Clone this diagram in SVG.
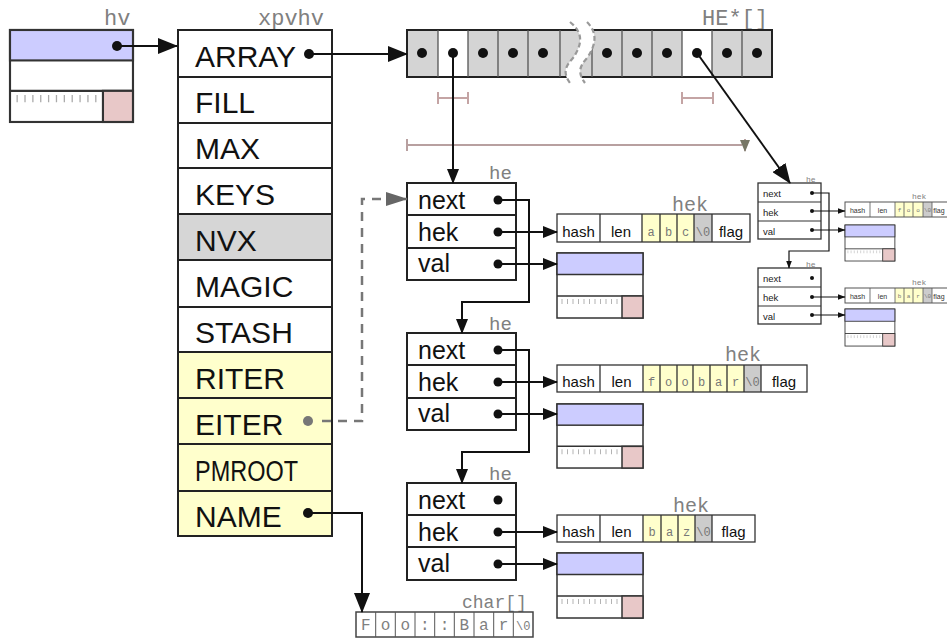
<svg xmlns="http://www.w3.org/2000/svg" xmlns:xlink="http://www.w3.org/1999/xlink" width="947" height="639" viewBox="0 0 947 639">
<style>
.box{fill:#fff;stroke:#222;stroke-width:2}
.cell{stroke:#333;stroke-width:1.3}
.row{font-family:"Liberation Sans",Arial,sans-serif;font-size:30px;fill:#111}
.he{font-family:"Liberation Sans",Arial,sans-serif;font-size:25px;fill:#111}
.hes{font-family:"Liberation Sans",Arial,sans-serif;font-size:9.5px;fill:#222}
.hk{font-family:"Liberation Sans",Arial,sans-serif;font-size:15px;fill:#111;text-anchor:middle}
.hks{font-family:"Liberation Sans",Arial,sans-serif;font-size:7px;fill:#333;text-anchor:middle}
.ch{font-family:"Liberation Mono","Courier New",monospace;font-size:12px;fill:#777;text-anchor:middle}
.chs{font-family:"Liberation Mono","Courier New",monospace;font-size:6px;fill:#777;text-anchor:middle}
.lbl{font-family:"Liberation Mono","Courier New",monospace;fill:#808080}
.conn{stroke:#111;stroke-width:2;fill:none}
.conns{stroke:#111;stroke-width:1.2;fill:none}
.dot{fill:#111}
</style>
<defs>
<marker id="ab" markerUnits="userSpaceOnUse" markerWidth="20" markerHeight="16" refX="19" refY="8" orient="auto"><path d="M0,0 L20,8 L0,16 z" fill="#111"/></marker>
<marker id="am" markerUnits="userSpaceOnUse" markerWidth="15" markerHeight="12" refX="14" refY="6" orient="auto"><path d="M0,0 L15,6 L0,12 z" fill="#111"/></marker>
<marker id="as" markerUnits="userSpaceOnUse" markerWidth="8" markerHeight="6" refX="7.5" refY="3" orient="auto"><path d="M0,0 L8,3 L0,6 z" fill="#111"/></marker>
<marker id="ag" markerUnits="userSpaceOnUse" markerWidth="22" markerHeight="14" refX="21" refY="7" orient="auto"><path d="M0,0 L22,7 L0,14 z" fill="#666"/></marker>
<marker id="ap" markerUnits="userSpaceOnUse" markerWidth="12" markerHeight="10" refX="11" refY="5" orient="auto"><path d="M0,0 L12,5 L0,10 z" fill="#776"/></marker>
<g id="sv">
<rect x="0" y="0" width="86" height="65" fill="#fff" stroke="#333" stroke-width="1.5"/>
<rect x="0" y="0" width="86" height="21.5" fill="#ccccff" stroke="#333" stroke-width="1.5"/>
<line x1="0" y1="43" x2="86" y2="43" stroke="#333" stroke-width="1.5"/>
<rect x="65" y="43" width="21" height="22" fill="#e8c8c8" stroke="#333" stroke-width="1.5"/>
<path d="M5,46v5M10.5,46v5M16,46v5M21.5,46v5M27,46v5M32.5,46v5M38,46v5M43.5,46v5M49,46v5M54.5,46v5M60,46v5" stroke="#aaa" stroke-width="0.9"/>
</g>
</defs>
<rect width="947" height="639" fill="#fff"/>

<!-- hv -->
<g id="hv">
<use xlink:href="#sv" href="#sv" transform="translate(10,30) scale(1.43,1.415)"/>
<text class="lbl" x="104" y="25" font-size="22">hv</text>
<circle class="dot" cx="117" cy="46" r="5"/>
</g>

<!-- xpvhv -->
<g id="xpvhv">
<text class="lbl" x="258" y="25" font-size="22">xpvhv</text>
<rect x="178" y="30" width="154" height="506" class="box"/>
<rect x="178" y="214" width="154" height="46" fill="#d6d6d6"/>
<rect x="178" y="352" width="154" height="184" fill="#ffffcc"/>
<rect x="178" y="30" width="154" height="506" fill="none" stroke="#222" stroke-width="2"/>
<path d="M178,77H332M178,123H332M178,168H332M178,214H332M178,260H332M178,307H332M178,352H332M178,398H332M178,444H332M178,491H332" stroke="#222" stroke-width="2"/>
<text class="row" x="195" y="67">ARRAY</text>
<text class="row" x="195" y="113">FILL</text>
<text class="row" x="195" y="159">MAX</text>
<text class="row" x="195" y="205">KEYS</text>
<text class="row" x="195" y="251">NVX</text>
<text class="row" x="195" y="297">MAGIC</text>
<text class="row" x="195" y="343">STASH</text>
<text class="row" x="195" y="389">RITER</text>
<text class="row" x="195" y="435">EITER</text>
<text class="row" x="195" y="481" textLength="103" lengthAdjust="spacingAndGlyphs">PMROOT</text>
<text class="row" x="195" y="527">NAME</text>
<circle class="dot" cx="309" cy="54" r="5"/>
<circle cx="308" cy="421" r="5" fill="#777"/>
<circle class="dot" cx="308" cy="513" r="5"/>
</g>

<!-- HE* array -->
<g id="array">
<text class="lbl" x="702" y="25" font-size="22">HE*[]</text>
<rect x="407" y="30" width="365" height="47" fill="#d4d4d4" stroke="#222" stroke-width="2"/>
<rect x="438" y="31" width="30" height="45" fill="#fff"/>
<rect x="682" y="31" width="30" height="45" fill="#fff"/>
<path d="M438,30V77M468,30V77M498,30V77M528,30V77M560,30V77M592,30V77M622,30V77M652,30V77M682,30V77M712,30V77M742,30V77" stroke="#555" stroke-width="1.3"/>
<path d="M570,22 C584,33 582,45 573,58 C566,66 562,72 570,83 L585,83 C577,72 580,66 587,58 C596,45 598,33 587,22 Z" fill="#fff"/>
<path d="M570,22 C584,33 582,45 573,58 C566,66 562,72 570,83" fill="none" stroke="#999" stroke-width="2.2" stroke-dasharray="5,3"/>
<path d="M587,22 C598,33 596,45 587,58 C580,66 577,72 585,83" fill="none" stroke="#999" stroke-width="2.2" stroke-dasharray="5,3"/>
<g class="dot">
<circle cx="422" cy="53" r="5"/><circle cx="453" cy="53" r="5"/><circle cx="483" cy="53" r="5"/><circle cx="513" cy="53" r="5"/><circle cx="543" cy="53" r="5"/>
<circle cx="607" cy="53" r="5"/><circle cx="637" cy="53" r="5"/><circle cx="667" cy="53" r="5"/><circle cx="697" cy="53" r="5"/><circle cx="727" cy="53" r="5"/><circle cx="757" cy="53" r="5"/>
</g>
<g stroke="#c4a4a4" stroke-width="2" fill="none">
<path d="M438,98H468M438,92V104M468,92V104"/>
<path d="M682,98H713M682,92V104M713,92V104"/>
<path d="M407,145H742M407,139V151M745,139V151" stroke="#b8a0a0" marker-end="url(#ap)"/>
</g>
</g>

<!-- he 1 -->
<g id="he1">
<text class="lbl" x="489" y="179" font-size="19">he</text>
<rect x="407" y="183" width="109" height="97" class="box"/>
<path d="M407,215H516M407,248H516" stroke="#222" stroke-width="2"/>
<text class="he" x="418" y="209">next</text>
<text class="he" x="418" y="241">hek</text>
<text class="he" x="418" y="272">val</text>
<circle class="dot" cx="498" cy="200" r="4.5"/><circle class="dot" cx="498" cy="232" r="4.5"/><circle class="dot" cx="498" cy="264" r="4.5"/>
</g>
<g id="hek1">
<text class="lbl" x="672" y="211" font-size="20">hek</text>
<rect x="557" y="214" width="193" height="28" fill="#fff"/>
<rect x="642" y="214" width="52" height="28" fill="#ffffcc"/>
<rect x="694" y="214" width="18" height="28" fill="#ccc"/>
<rect x="557" y="214" width="193" height="28" fill="none" class="cell" stroke-width="1.6"/>
<path class="cell" d="M600,214V242M642,214V242M660,214V242M677,214V242M694,214V242M712,214V242" stroke-width="1"/>
<text class="hk" x="578.5" y="237">hash</text><text class="hk" x="621" y="237">len</text>
<text class="ch" x="651" y="236">a</text><text class="ch" x="668.5" y="236">b</text><text class="ch" x="685.5" y="236">c</text>
<text class="ch" x="703" y="236" font-size="10">\0</text>
<text class="hk" x="731" y="237">flag</text>
</g>
<g id="val1"><use xlink:href="#sv" href="#sv" transform="translate(557,253)"/></g>

<!-- he 2 -->
<g id="he2">
<text class="lbl" x="489" y="330" font-size="19">he</text>
<rect x="407" y="333" width="109" height="97" class="box"/>
<path d="M407,365H516M407,398H516" stroke="#222" stroke-width="2"/>
<text class="he" x="418" y="359">next</text>
<text class="he" x="418" y="391">hek</text>
<text class="he" x="418" y="422">val</text>
<circle class="dot" cx="498" cy="350" r="4.5"/><circle class="dot" cx="498" cy="382" r="4.5"/><circle class="dot" cx="498" cy="414" r="4.5"/>
</g>
<g id="hek2">
<text class="lbl" x="725" y="361" font-size="20">hek</text>
<rect x="557" y="365" width="250" height="27" fill="#fff"/>
<rect x="643" y="365" width="101" height="27" fill="#ffffcc"/>
<rect x="744" y="365" width="17" height="27" fill="#ccc"/>
<rect x="557" y="365" width="250" height="27" fill="none" class="cell" stroke-width="1.6"/>
<path class="cell" d="M600,365V392M643,365V392M660,365V392M677,365V392M693,365V392M710,365V392M727,365V392M744,365V392M761,365V392" stroke-width="1"/>
<text class="hk" x="578.5" y="387">hash</text><text class="hk" x="621.5" y="387">len</text>
<text class="ch" x="651.5" y="386">f</text><text class="ch" x="668.5" y="386">o</text><text class="ch" x="685" y="386">o</text>
<text class="ch" x="701.5" y="386">b</text><text class="ch" x="718.5" y="386">a</text><text class="ch" x="735.5" y="386">r</text>
<text class="ch" x="752.5" y="386" font-size="10">\0</text>
<text class="hk" x="784" y="387">flag</text>
</g>
<g id="val2"><use xlink:href="#sv" href="#sv" transform="translate(557,404) scale(1,0.985)"/></g>

<!-- he 3 -->
<g id="he3">
<text class="lbl" x="489" y="480" font-size="19">he</text>
<rect x="407" y="483" width="109" height="97" class="box"/>
<path d="M407,515H516M407,547H516" stroke="#222" stroke-width="2"/>
<text class="he" x="418" y="509">next</text>
<text class="he" x="418" y="541">hek</text>
<text class="he" x="418" y="572">val</text>
<circle class="dot" cx="498" cy="500" r="4.5"/><circle class="dot" cx="498" cy="532" r="4.5"/><circle class="dot" cx="498" cy="564" r="4.5"/>
</g>
<g id="hek3">
<text class="lbl" x="673" y="512" font-size="20">hek</text>
<rect x="557" y="515" width="198" height="27" fill="#fff"/>
<rect x="643" y="515" width="52" height="27" fill="#ffffcc"/>
<rect x="695" y="515" width="17" height="27" fill="#ccc"/>
<rect x="557" y="515" width="198" height="27" fill="none" class="cell" stroke-width="1.6"/>
<path class="cell" d="M600,515V542M643,515V542M661,515V542M678,515V542M695,515V542M712,515V542" stroke-width="1"/>
<text class="hk" x="578.5" y="537">hash</text><text class="hk" x="621.5" y="537">len</text>
<text class="ch" x="652" y="536">b</text><text class="ch" x="669.5" y="536">a</text><text class="ch" x="686.5" y="536">z</text>
<text class="ch" x="703.5" y="536" font-size="10">\0</text>
<text class="hk" x="733.5" y="537">flag</text>
</g>
<g id="val3"><use xlink:href="#sv" href="#sv" transform="translate(557,553)"/></g>

<!-- char[] -->
<g id="name">
<text class="lbl" x="462" y="608" font-size="18">char[]</text>
<rect x="356" y="612" width="177" height="25" fill="#fff" stroke="#444" stroke-width="1.5"/>
<path d="M375.7,612V637M395.3,612V637M415,612V637M434.7,612V637M454.3,612V637M474,612V637M493.7,612V637M513.3,612V637" stroke="#555" stroke-width="1"/>
<g class="lbl" font-size="16" text-anchor="middle">
<text x="365.8" y="630">F</text><text x="385.5" y="630">o</text><text x="405.2" y="630">o</text><text x="424.8" y="630">:</text><text x="444.5" y="630">:</text><text x="464.2" y="630">B</text><text x="483.8" y="630">a</text><text x="503.5" y="630">r</text><text x="523.2" y="630" font-size="12">\0</text>
</g>
</g>

<!-- small he 1 -->
<g id="she1">
<text class="lbl" x="806" y="182" font-size="8">he</text>
<rect x="758" y="183" width="63" height="56" fill="#fff" stroke="#333" stroke-width="1.3"/>
<path d="M758,202H821M758,221H821" stroke="#333" stroke-width="1.2"/>
<text class="hes" x="763" y="197">next</text><text class="hes" x="763" y="216">hek</text><text class="hes" x="763" y="235">val</text>
<circle class="dot" cx="812" cy="193" r="2"/><circle class="dot" cx="812" cy="211" r="2"/><circle class="dot" cx="812" cy="230" r="2"/>
</g>
<g id="shek1">
<text class="lbl" x="912" y="199" font-size="8">hek</text>
<rect x="845" y="202" width="110" height="15" fill="#fff"/>
<rect x="895" y="202" width="28" height="15" fill="#ffffcc"/>
<rect x="923" y="202" width="9" height="15" fill="#ccc"/>
<rect x="845" y="202" width="110" height="15" fill="none" stroke="#555" stroke-width="1"/>
<path d="M870,202V217M895,202V217M904,202V217M913,202V217M923,202V217M932,202V217" stroke="#555" stroke-width="0.8"/>
<text class="hks" x="857.5" y="212.5">hash</text><text class="hks" x="882.5" y="212.5">len</text>
<text class="chs" x="899.5" y="212">f</text><text class="chs" x="908.5" y="212">o</text><text class="chs" x="918" y="212">o</text><text class="chs" x="927.5" y="212" font-size="5">\0</text>
<text class="hks" x="939" y="212.5" font-size="6.5">flag</text>
</g>
<g id="sval1"><use xlink:href="#sv" href="#sv" transform="translate(845,225) scale(0.58,0.554)"/></g>

<!-- small he 2 -->
<g id="she2">
<text class="lbl" x="806" y="267" font-size="8">he</text>
<rect x="758" y="268" width="63" height="56" fill="#fff" stroke="#333" stroke-width="1.3"/>
<path d="M758,287H821M758,306H821" stroke="#333" stroke-width="1.2"/>
<text class="hes" x="763" y="282">next</text><text class="hes" x="763" y="301">hek</text><text class="hes" x="763" y="320">val</text>
<circle class="dot" cx="812" cy="278" r="2"/><circle class="dot" cx="812" cy="297" r="2"/><circle class="dot" cx="812" cy="315" r="2"/>
</g>
<g id="shek2">
<text class="lbl" x="912" y="285" font-size="8">hek</text>
<rect x="845" y="288" width="110" height="15" fill="#fff"/>
<rect x="895" y="288" width="28" height="15" fill="#ffffcc"/>
<rect x="923" y="288" width="9" height="15" fill="#ccc"/>
<rect x="845" y="288" width="110" height="15" fill="none" stroke="#555" stroke-width="1"/>
<path d="M870,288V303M895,288V303M904,288V303M913,288V303M923,288V303M932,288V303" stroke="#555" stroke-width="0.8"/>
<text class="hks" x="857.5" y="298.5">hash</text><text class="hks" x="882.5" y="298.5">len</text>
<text class="chs" x="899.5" y="298">b</text><text class="chs" x="908.5" y="298">a</text><text class="chs" x="918" y="298">r</text><text class="chs" x="927.5" y="298" font-size="5">\0</text>
<text class="hks" x="939" y="298.5" font-size="6.5">flag</text>
</g>
<g id="sval2"><use xlink:href="#sv" href="#sv" transform="translate(845,309) scale(0.58,0.57)"/></g>

<!-- connectors -->
<g id="connectors">
<path class="conn" d="M117,46H177" marker-end="url(#ab)"/>
<path class="conn" d="M309,54H407" marker-end="url(#ab)"/>
<path class="conn" d="M453,53V183" marker-end="url(#am)"/>
<path class="conn" d="M697,53L790,183" stroke-width="2.5" marker-end="url(#ab)"/>
<path class="conn" d="M498,200H529V302H462V333" marker-end="url(#am)"/>
<path class="conn" d="M498,232H557" marker-end="url(#am)"/>
<path class="conn" d="M498,264H557" marker-end="url(#am)"/>
<path class="conn" d="M498,350H529V452H462V483" marker-end="url(#am)"/>
<path class="conn" d="M498,382H557" marker-end="url(#am)"/>
<path class="conn" d="M498,414H557" marker-end="url(#am)"/>
<path class="conn" d="M498,532H557" marker-end="url(#am)"/>
<path class="conn" d="M498,564H557" marker-end="url(#am)"/>
<path class="conn" d="M308,513H362V612" marker-end="url(#ab)"/>
<path d="M322,421H362V199H407" fill="none" stroke="#777" stroke-width="2.5" stroke-dasharray="9,7" marker-end="url(#ag)"/>
<path class="conns" d="M812,193H829V251H789V268" marker-end="url(#as)"/>
<path class="conns" d="M812,211H845" marker-end="url(#as)"/>
<path class="conns" d="M812,230H845" marker-end="url(#as)"/>
<path class="conns" d="M812,297H845" marker-end="url(#as)"/>
<path class="conns" d="M812,315H845" marker-end="url(#as)"/>
</g>
</svg>
